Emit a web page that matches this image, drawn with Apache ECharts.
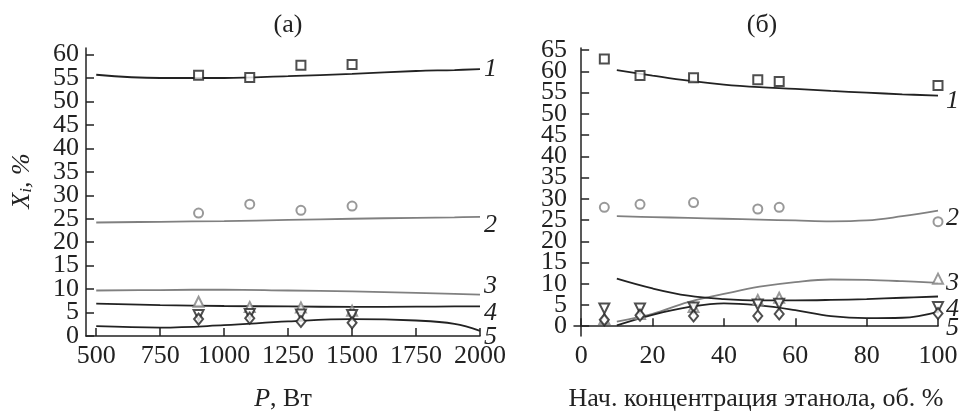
<!DOCTYPE html>
<html><head><meta charset="utf-8">
<script src="https://cdn.jsdelivr.net/npm/echarts@6/dist/echarts.min.js"></script>
<style>html,body{margin:0;padding:0;background:#fff}#c{width:962px;height:417px}</style>
</head><body><div id="c"></div>
<script>
// ---- Panel (а): power P, W ----
const powerX = [900, 1100, 1300, 1500];
const aPts1 = [55.6, 55.1, 57.7, 57.9];
const aPts2 = [26.2, 28.1, 26.8, 27.7];
const aPts3 = [7.3, 6.2, 6.1, 5.4];
const aPts4 = [4.5, 4.7, 4.6, 4.5];
const aPts5 = [3.6, 3.8, 3.1, 2.8];
const aCurveX = [500, 750, 1000, 1250, 1500, 1750, 1900, 2000];
const aCurve1 = [55.7, 55.0, 55.0, 55.4, 55.9, 56.5, 56.7, 56.9];
const aCurve2 = [24.2, 24.35, 24.5, 24.75, 25.0, 25.2, 25.3, 25.4];
const aCurve3 = [9.7, 9.8, 9.9, 9.7, 9.5, 9.2, 9.0, 8.8];
const aCurve4 = [6.9, 6.6, 6.4, 6.3, 6.2, 6.25, 6.3, 6.3];
const aCurve5 = [2.1, 1.8, 2.3, 3.1, 3.6, 3.3, 2.6, 1.1];
const aTicksX = [500, 750, 1000, 1250, 1500, 1750, 2000];
const aTicksY = [0, 5, 10, 15, 20, 25, 30, 35, 40, 45, 50, 55, 60];
const aLabelsYEven = [0, 10, 20, 30, 40, 50, 60];
const aLabelsYOdd = [5, 15, 25, 35, 45, 55];

// ---- Panel (б): initial ethanol concentration, vol.% ----
const concX = [6.5, 16.5, 31.5, 49.5, 55.5, 100];
const bPts1 = [62.9, 59.0, 58.5, 58.0, 57.6, 56.7];
const bPts2 = [28.0, 28.7, 29.1, 27.6, 28.0, 24.6];
const bPts3 = [1.7, 2.9, 4.5, 6.2, 6.7, 11.2];
const bPts4 = [4.2, 4.2, 4.4, 5.1, 5.3, 4.5];
const bPts5 = [1.5, 2.6, 2.4, 2.4, 2.9, 3.0];
const bCurveX = [10, 20, 30, 40, 50, 60, 70, 80, 90, 100];
const bCurve1 = [60.3, 59.0, 57.8, 56.9, 56.3, 55.9, 55.4, 55.0, 54.6, 54.3];
const bCurve2 = [25.9, 25.7, 25.5, 25.3, 25.1, 24.9, 24.7, 24.9, 25.9, 27.2];
const bCurve3 = [1.1, 2.9, 5.7, 7.6, 9.3, 10.4, 11.0, 10.9, 10.6, 10.2];
const bCurve4 = [11.2, 8.9, 7.2, 6.4, 6.1, 6.1, 6.2, 6.4, 6.7, 7.0];
const bCurve5 = [0.2, 2.7, 4.5, 5.4, 4.9, 3.8, 2.4, 1.9, 2.0, 3.4];
const bTicksX = [0, 20, 40, 60, 80, 100];
const bTicksY = [0, 5, 10, 15, 20, 25, 30, 35, 40, 45, 50, 55, 60, 65];
const bLabelsYEven = [0, 10, 20, 30, 40, 50, 60];
const bLabelsYOdd = [5, 15, 25, 35, 45, 55, 65];

const curveLabels = ['1', '2', '3', '4', '5'];

const DARK = '#222';
const GREY = '#808080';
const FONT = 'Liberation Serif';

function zip(xs, ys) { return xs.map((x, i) => [x, ys[i]]); }

function axisCommon(ticks, labels, fs) {
  return {
    axisLine: { show: true, lineStyle: { color: DARK, width: 1.5 } },
    axisTick: { show: true, inside: true, length: 8, customValues: ticks, lineStyle: { color: DARK, width: 1.5 } },
    axisLabel: { customValues: labels, showMinLabel: true, showMaxLabel: true, hideOverlap: false,
      formatter: v => String(v), color: DARK, fontFamily: FONT, fontSize: fs, margin: 7 },
    splitLine: { show: false }
  };
}
function labelOnlyAxis(labels, fs) {
  return {
    axisLine: { show: false }, axisTick: { show: false }, splitLine: { show: false },
    axisLabel: { customValues: labels, showMinLabel: true, showMaxLabel: true, hideOverlap: false,
      formatter: v => String(v), color: DARK, fontFamily: FONT, fontSize: fs, margin: 7 }
  };
}

const colors = [DARK, GREY, GREY, DARK, DARK];
const symbols = ['emptyRect', 'emptyCircle', 'emptyTriangle', 'emptyTriangle', 'emptyDiamond'];
const rotates = [0, 0, 0, 180, 0];
const sizes = [9, 9, 10, 10, [9, 11]];

function curve(xi, yi, xs, ys, lab, off) {
  return {
    type: 'line', xAxisIndex: xi, yAxisIndex: yi, smooth: 0.4, showSymbol: false, symbol: 'none',
    data: zip(xs, ys), z: 2, silent: true,
    lineStyle: { color: colors[curveLabels.indexOf(lab)], width: 1.8 },
    endLabel: { show: true, formatter: lab, color: DARK, fontFamily: FONT, fontStyle: 'italic', fontSize: 26, distance: 4, offset: off }
  };
}
function pts(xi, yi, xs, ys, k) {
  return {
    type: 'scatter', xAxisIndex: xi, yAxisIndex: yi, data: zip(xs, ys), z: 5,
    symbol: symbols[k], symbolRotate: rotates[k], symbolSize: sizes[k],
    itemStyle: { color: colors[k] }
  };
}

const chart = echarts.init(document.getElementById('c'), null, { renderer: 'canvas' });
chart.setOption({
  animation: false,
  backgroundColor: '#fff',
  title: [
    { text: '(а)', left: 283, top: 7, textAlign: 'center', textStyle: { fontFamily: FONT, fontWeight: 'normal', fontSize: 26, color: DARK } },
    { text: '(б)', left: 757, top: 7, textAlign: 'center', textStyle: { fontFamily: FONT, fontWeight: 'normal', fontSize: 26, color: DARK } }
  ],
  grid: [
    { left: 86, right: 482, top: 48, bottom: 70 },
    { left: 574, right: 24, top: 48, bottom: 70 }
  ],
  xAxis: [
    Object.assign({ type: 'value', gridIndex: 0, min: 460, max: 2000,
      name: '{i|P}, Вт', nameLocation: 'middle', nameGap: 50,
      nameTextStyle: { fontFamily: FONT, fontSize: 26, color: DARK, rich: { i: { fontFamily: FONT, fontSize: 26, fontStyle: 'italic', color: DARK } } } },
      axisCommon(aTicksX, aTicksX, 26)),
    Object.assign({ type: 'value', gridIndex: 1, min: -2, max: 100,
      name: 'Нач. концентрация этанола, об. %', nameLocation: 'middle', nameGap: 50,
      nameTextStyle: { fontFamily: FONT, fontSize: 26, color: DARK } },
      axisCommon(bTicksX, bTicksX, 26))
  ],
  yAxis: [
    Object.assign({ type: 'value', gridIndex: 0, position: 'left', min: 0, max: 61.4 }, axisCommon(aTicksY, aLabelsYEven, 26)),
    Object.assign({ type: 'value', gridIndex: 0, position: 'left', offset: 0, min: 0, max: 61.4 }, labelOnlyAxis(aLabelsYOdd, 26)),
    Object.assign({ type: 'value', gridIndex: 1, position: 'left', min: -2.3, max: 65.5 }, axisCommon(bTicksY, bLabelsYEven, 26)),
    Object.assign({ type: 'value', gridIndex: 1, position: 'left', offset: 0, min: -2.3, max: 65.5 }, labelOnlyAxis(bLabelsYOdd, 26))
  ],
  graphic: [{
    type: 'text', x: 22, y: 181, rotation: Math.PI / 2,
    style: {
      text: '{x|X}{s|i}{x|, %}', textAlign: 'center', textVerticalAlign: 'middle',
      rich: {
        x: { fontFamily: FONT, fontStyle: 'italic', fontSize: 26, fill: DARK },
        s: { fontFamily: FONT, fontStyle: 'italic', fontSize: 17, fill: DARK, padding: [10, 0, 0, 0] }
      }
    }
  }],
  series: [
    curve(0, 0, aCurveX, aCurve1, '1', [0, 0]),
    curve(0, 0, aCurveX, aCurve2, '2', [0, 8]),
    curve(0, 0, aCurveX, aCurve3, '3', [0, -9]),
    curve(0, 0, aCurveX, aCurve4, '4', [0, 7]),
    curve(0, 0, aCurveX, aCurve5, '5', [0, 6]),
    pts(0, 0, powerX, aPts1, 0),
    pts(0, 0, powerX, aPts2, 1),
    pts(0, 0, powerX, aPts3, 2),
    pts(0, 0, powerX, aPts4, 3),
    pts(0, 0, powerX, aPts5, 4),
    curve(1, 2, bCurveX, bCurve1, '1', [4, 6]),
    curve(1, 2, bCurveX, bCurve2, '2', [4, 7]),
    curve(1, 2, bCurveX, bCurve3, '3', [4, 0]),
    curve(1, 2, bCurveX, bCurve4, '4', [4, 13]),
    curve(1, 2, bCurveX, bCurve5, '5', [4, 16]),
    pts(1, 2, concX, bPts1, 0),
    pts(1, 2, concX, bPts2, 1),
    pts(1, 2, concX, bPts3, 2),
    pts(1, 2, concX, bPts4, 3),
    pts(1, 2, concX, bPts5, 4)
  ]
});
</script>
</body></html>
